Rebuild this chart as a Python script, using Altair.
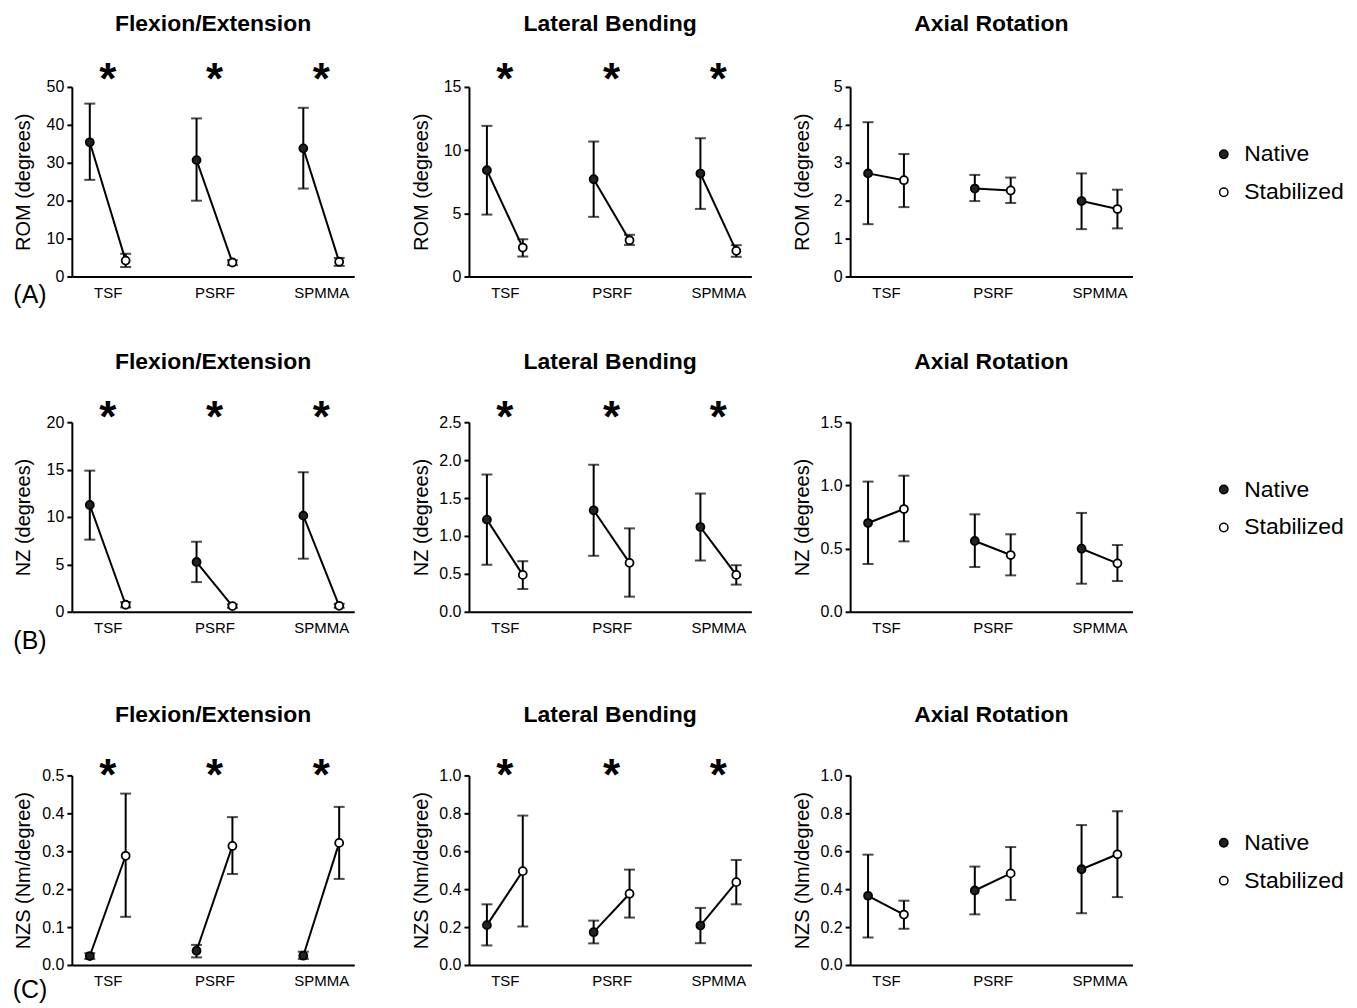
import altair as alt
import pandas as pd

groups = ["TSF", "PSRF", "SPMMA"]
series = ["Native", "Stabilized"]
row_labels = ["(A)", "(B)", "(C)"]
motions = ["Flexion/Extension", "Lateral Bending", "Axial Rotation"]
y_titles = ["ROM (degrees)", "NZ (degrees)", "NZS (Nm/degree)"]

# order in each list: TSF native, TSF stabilized, PSRF native, PSRF stabilized, SPMMA native, SPMMA stabilized
rom_fe_mean = [35.4, 4.2, 30.7, 3.7, 33.8, 3.9]
rom_fe_lo = [25.5, 2.5, 20.0, 3.0, 23.2, 2.8]
rom_fe_hi = [45.6, 6.0, 41.7, 4.3, 44.5, 4.9]

rom_lb_mean = [8.41, 2.29, 7.70, 2.87, 8.15, 2.03]
rom_lb_lo = [4.90, 1.58, 4.72, 2.50, 5.35, 1.56]
rom_lb_hi = [11.92, 2.95, 10.68, 3.30, 10.94, 2.48]

rom_ar_mean = [2.72, 2.54, 2.32, 2.27, 1.99, 1.78]
rom_ar_lo = [1.38, 1.83, 1.99, 1.94, 1.25, 1.27]
rom_ar_hi = [4.07, 3.23, 2.68, 2.61, 2.72, 2.29]

nz_fe_mean = [11.27, 0.74, 5.25, 0.60, 10.14, 0.63]
nz_fe_lo = [7.61, 0.46, 3.13, 0.42, 5.60, 0.43]
nz_fe_hi = [14.89, 1.02, 7.39, 0.78, 14.72, 0.83]

nz_lb_mean = [1.215, 0.486, 1.338, 0.645, 1.117, 0.486]
nz_lb_lo = [0.62, 0.30, 0.738, 0.199, 0.676, 0.358]
nz_lb_hi = [1.81, 0.667, 1.939, 1.10, 1.559, 0.614]

nz_ar_mean = [0.702, 0.813, 0.560, 0.449, 0.499, 0.383]
nz_ar_lo = [0.378, 0.557, 0.354, 0.288, 0.222, 0.243]
nz_ar_hi = [1.03, 1.077, 0.771, 0.613, 0.782, 0.528]

nzs_fe_mean = [0.0236, 0.288, 0.0376, 0.314, 0.0245, 0.322]
nzs_fe_lo = [0.016, 0.127, 0.020, 0.240, 0.016, 0.227]
nzs_fe_hi = [0.031, 0.452, 0.053, 0.390, 0.035, 0.417]

nzs_lb_mean = [0.210, 0.495, 0.173, 0.376, 0.208, 0.437]
nzs_lb_lo = [0.103, 0.203, 0.114, 0.250, 0.115, 0.320]
nzs_lb_hi = [0.320, 0.788, 0.234, 0.503, 0.301, 0.554]

nzs_ar_mean = [0.365, 0.266, 0.393, 0.483, 0.505, 0.584]
nzs_ar_lo = [0.145, 0.191, 0.267, 0.343, 0.273, 0.358]
nzs_ar_hi = [0.582, 0.339, 0.519, 0.622, 0.738, 0.811]

# y tick labels per panel
ticks_rom_fe = [0, 10, 20, 30, 40, 50]
ticks_rom_lb = [0, 5, 10, 15]
ticks_rom_ar = [0, 1, 2, 3, 4, 5]
ticks_nz_fe = [0, 5, 10, 15, 20]
ticks_nz_lb = [0.0, 0.5, 1.0, 1.5, 2.0, 2.5]
ticks_nz_ar = [0.0, 0.5, 1.0, 1.5]
ticks_nzs_fe = [0.0, 0.1, 0.2, 0.3, 0.4, 0.5]
ticks_nzs_lb = [0.0, 0.2, 0.4, 0.6, 0.8, 1.0]
ticks_nzs_ar = [0.0, 0.2, 0.4, 0.6, 0.8, 1.0]

# significance (*) per group, per motion
sig_fe = [True, True, True]
sig_lb = [True, True, True]
sig_ar = [False, False, False]

FONT = "Liberation Sans"
W, H = 283, 190
X0, X1 = 0.664, 3.309
OFF = 0.168


def panel(motion, ytitle, mean, lo, hi, ticks, fmt, sig, show_legend, row_label,
          star_y, label_y, title_offset):
    recs = []
    for gi, g in enumerate(groups):
        for si, s in enumerate(series):
            k = gi * 2 + si
            recs.append(dict(group=g, series=s,
                             x=gi + 1 + (-OFF if si == 0 else OFF),
                             mean=mean[k], lo=lo[k], hi=hi[k]))
    df = pd.DataFrame(recs)
    xsc = alt.Scale(domain=[X0, X1], nice=False, zero=False)
    ysc = alt.Scale(domain=[ticks[0], ticks[-1]], nice=False, zero=True)
    xax = alt.Axis(values=[1, 2, 3], labelExpr=f"{groups!r}[datum.value-1]",
                   ticks=False, grid=False, title=None, domainColor="black",
                   domainWidth=2, labelFontSize=15, labelPadding=9,
                   labelColor="black", labelFont=FONT, labelAngle=0)
    yax = alt.Axis(values=ticks, format=fmt, grid=False, domainColor="black", domainWidth=2,
                   tickColor="black", tickWidth=2, tickSize=5, labelFontSize=16,
                   labelFont=FONT, labelColor="black", labelPadding=3,
                   titleFontSize=20, titleFont=FONT, titleFontWeight="normal",
                   titleColor="black", titlePadding=7, minExtent=31, maxExtent=31)

    def X():
        return alt.X("x:Q", scale=xsc, axis=xax)

    def Y(f):
        return alt.Y(f"{f}:Q", scale=ysc, axis=yax, title=ytitle)

    base = alt.Chart(df)
    rule = base.mark_rule(color="black", strokeWidth=2).encode(x=X(), y=Y("lo"), y2="hi:Q")
    cap_lo = base.mark_tick(orient="horizontal", size=11, thickness=2, color="black").encode(x=X(), y=Y("lo"))
    cap_hi = base.mark_tick(orient="horizontal", size=11, thickness=2, color="black").encode(x=X(), y=Y("hi"))
    line = base.mark_line(color="black", strokeWidth=2).encode(x=X(), y=Y("mean"), detail="group:N")
    legend = None
    if show_legend:
        legend = alt.Legend(orient="none", legendX=363, legendY=56, title=None,
                            labelFontSize=23, labelFont=FONT, labelColor="black",
                            symbolType="circle", symbolSize=70, symbolStrokeColor="black",
                            symbolStrokeWidth=1.5, labelOffset=9, rowPadding=14, padding=0)
    pts = base.mark_point(shape="circle", filled=True, size=64, stroke="black",
                          strokeWidth=1.8, opacity=1).encode(
        x=X(), y=Y("mean"),
        fill=alt.Fill("series:N", scale=alt.Scale(domain=series, range=["#222222", "white"]),
                      legend=legend))
    layers = [rule, cap_lo, cap_hi, line, pts]
    sdf = pd.DataFrame({"x": [gi + 1 for gi, s in enumerate(sig) if s]})
    if len(sdf):
        stars = alt.Chart(sdf).mark_text(text="*", fontSize=44, fontWeight="bold",
                                         font=FONT, baseline="alphabetic", color="black").encode(
            x=X(), y=alt.value(star_y))
        layers.append(stars)
    if row_label:
        lab = alt.Chart(pd.DataFrame({"t": [row_label]})).mark_text(
            fontSize=25, font=FONT, align="center", baseline="middle", color="black").encode(
            text="t:N", x=alt.value(-42), y=alt.value(label_y))
        layers.append(lab)
    return alt.layer(*layers).properties(
        width=W, height=H,
        title=alt.TitleParams(motion, fontSize=23, font=FONT, fontWeight="bold",
                              frame="group", anchor="middle", offset=title_offset, color="black"))


data = [
    [(rom_fe_mean, rom_fe_lo, rom_fe_hi, ticks_rom_fe, "d", sig_fe),
     (rom_lb_mean, rom_lb_lo, rom_lb_hi, ticks_rom_lb, "d", sig_lb),
     (rom_ar_mean, rom_ar_lo, rom_ar_hi, ticks_rom_ar, "d", sig_ar)],
    [(nz_fe_mean, nz_fe_lo, nz_fe_hi, ticks_nz_fe, "d", sig_fe),
     (nz_lb_mean, nz_lb_lo, nz_lb_hi, ticks_nz_lb, ".1f", sig_lb),
     (nz_ar_mean, nz_ar_lo, nz_ar_hi, ticks_nz_ar, ".1f", sig_ar)],
    [(nzs_fe_mean, nzs_fe_lo, nzs_fe_hi, ticks_nzs_fe, ".1f", sig_fe),
     (nzs_lb_mean, nzs_lb_lo, nzs_lb_hi, ticks_nzs_lb, ".1f", sig_lb),
     (nzs_ar_mean, nzs_ar_lo, nzs_ar_hi, ticks_nzs_ar, ".1f", sig_ar)],
]
star_ys = [7, 10, 15]
label_ys = [H + 19, H + 29, H + 25]
off_sig = [23, 23, 29]
off_nosig = [43, 40, 41]

rows = []
for r in range(3):
    ps = []
    for c in range(3):
        m, lo, hi, tk, fmt, sig = data[r][c]
        off = off_sig[r] if any(sig) else off_nosig[r]
        ps.append(panel(motions[c], y_titles[r], m, lo, hi, tk, fmt, sig,
                        show_legend=(c == 2), row_label=row_labels[r] if c == 0 else None,
                        star_y=star_ys[r], label_y=label_ys[r], title_offset=off))
    inner = alt.hconcat(ps[1], ps[2], spacing=41).resolve_scale(fill="independent")
    rows.append(alt.hconcat(ps[0], inner, spacing=57).resolve_scale(fill="independent"))

lower = alt.vconcat(rows[1], rows[2], spacing=50).resolve_scale(fill="independent")
chart = alt.vconcat(rows[0], lower, spacing=43).resolve_scale(fill="independent").configure(
    font=FONT, padding={"top": 4, "left": 4, "right": 5, "bottom": 5}
).configure_view(stroke=None)

chart.save("out.html", embed_options={"renderer": "svg", "actions": False})
